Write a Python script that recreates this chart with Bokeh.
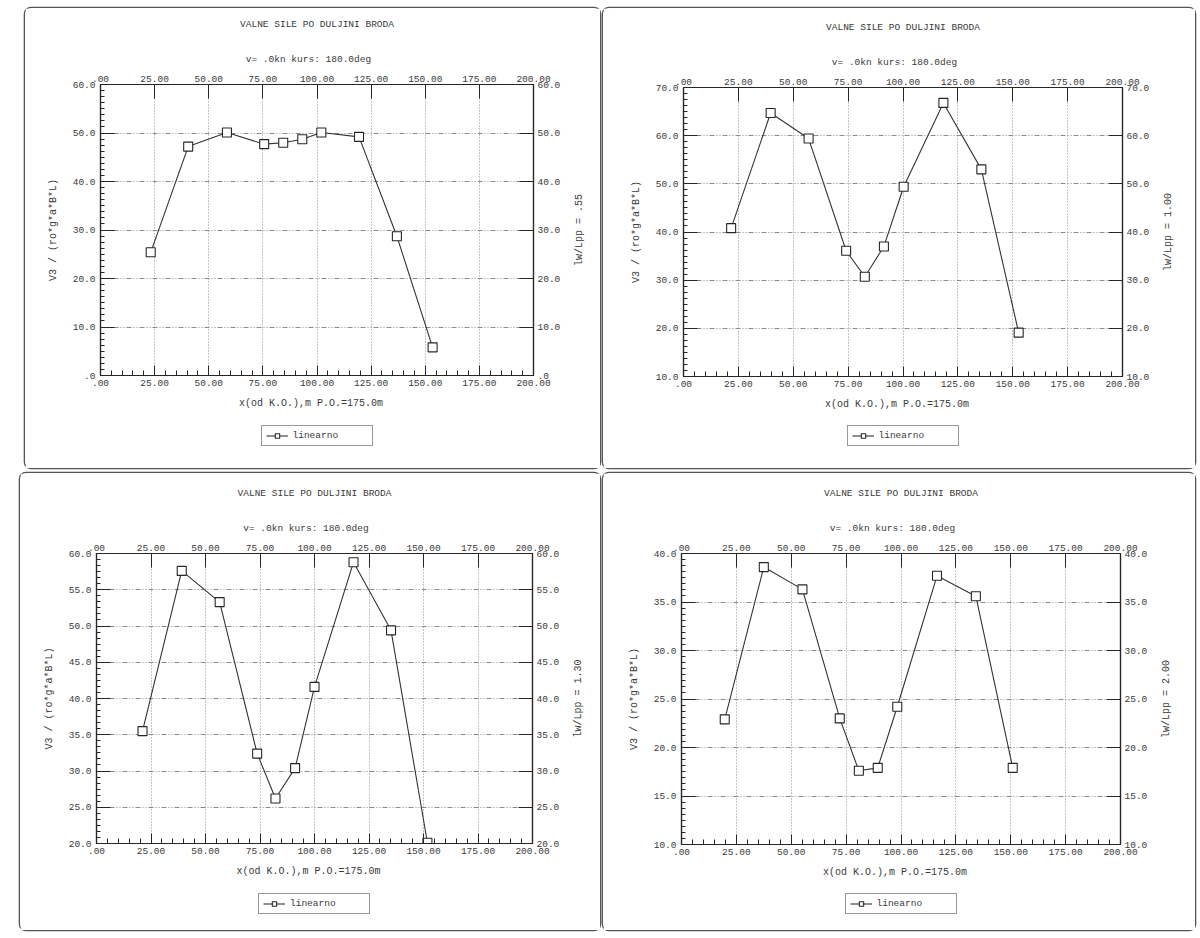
import math
from bokeh.plotting import figure
from bokeh.models import (Range1d, LinearAxis, FixedTicker, Legend, LegendItem, Spacer, Grid)
from bokeh.layouts import row, column
from bokeh.embed import file_html
from bokeh.resources import INLINE

# ---------------- data ----------------
TITLE = "VALNE SILE PO DULJINI BRODA"
SUBTITLE = "v=   .0kn  kurs: 180.0deg"
X_LABEL = "x(od K.O.),m   P.O.=175.0m"
Y_LABEL = "V3 / (ro*g*a*B*L)"
LEGEND_LABEL = "linearno"

x_ticks = [0, 25, 50, 75, 100, 125, 150, 175, 200]
x_tick_labels = [".00", "25.00", "50.00", "75.00", "100.00", "125.00", "150.00", "175.00", "200.00"]

# panel 1: lw/Lpp = .55
right_label_1 = "lw/Lpp = .55"
x_1 = [23.2, 40.5, 58.4, 75.6, 84.4, 93.2, 102.0, 119.4, 136.9, 153.4]
v_1 = [25.4, 47.2, 50.1, 47.7, 48.0, 48.7, 50.1, 49.2, 28.7, 5.8]
y_ticks_1 = [0, 10, 20, 30, 40, 50, 60]
y_labels_1 = [".0", "10.0", "20.0", "30.0", "40.0", "50.0", "60.0"]

# panel 2: lw/Lpp = 1.00
right_label_2 = "lw/Lpp = 1.00"
x_2 = [21.7, 39.7, 57.0, 74.1, 82.6, 91.3, 100.3, 118.4, 135.7, 152.7]
v_2 = [40.8, 64.7, 59.4, 36.1, 30.7, 37.0, 49.4, 66.8, 53.0, 19.1]
y_ticks_2 = [10, 20, 30, 40, 50, 60, 70]
y_labels_2 = ["10.0", "20.0", "30.0", "40.0", "50.0", "60.0", "70.0"]

# panel 3: lw/Lpp = 1.30
right_label_3 = "lw/Lpp = 1.30"
x_3 = [21.1, 39.1, 56.5, 73.7, 82.1, 91.1, 100.0, 117.9, 135.1, 151.8]
v_3 = [35.5, 57.6, 53.3, 32.4, 26.2, 30.4, 41.6, 58.8, 49.4, 20.1]
y_ticks_3 = [20, 25, 30, 35, 40, 45, 50, 55, 60]
y_labels_3 = ["20.0", "25.0", "30.0", "35.0", "40.0", "45.0", "50.0", "55.0", "60.0"]

# panel 4: lw/Lpp = 2.00
right_label_4 = "lw/Lpp = 2.00"
x_4 = [19.7, 37.5, 55.1, 72.1, 80.8, 89.4, 98.3, 116.4, 134.1, 150.9]
v_4 = [22.9, 38.6, 36.3, 23.0, 17.6, 17.9, 24.2, 37.7, 35.6, 17.9]
y_ticks_4 = [10, 15, 20, 25, 30, 35, 40]
y_labels_4 = ["10.0", "15.0", "20.0", "25.0", "30.0", "35.0", "40.0"]

# ---------------- style ----------------
FONT = "Liberation Mono"
TXT = "#3a3a3a"
INK = "#262626"
GRID = "#8a8a8a"
FS = "9.5px"
LFS = "10px"
CHAR_W = 6.0  # advance of one Liberation Mono character at 10px


def minor_list(ticks, n):
    out = []
    for a, b in zip(ticks[:-1], ticks[1:]):
        step = (b - a) / n
        out += [a + k * step for k in range(1, n)]
    return out


def style_axis(ax, tick_in=0, minor_in=0, standoff=4):
    ax.axis_line_color = INK
    ax.axis_line_width = 1.2
    ax.major_tick_line_color = INK
    ax.minor_tick_line_color = INK
    ax.major_tick_in = tick_in
    ax.major_tick_out = 0
    ax.minor_tick_in = minor_in
    ax.minor_tick_out = 0
    ax.major_label_standoff = standoff
    ax.major_label_text_font = FONT
    ax.major_label_text_font_size = FS
    ax.major_label_text_color = TXT
    ax.axis_label_text_font = FONT
    ax.axis_label_text_font_size = LFS
    ax.axis_label_text_font_style = "normal"
    ax.axis_label_text_color = TXT


def make_panel(xs, ys, y_ticks, y_labels, right_label, n_minor_y, geom):
    w, h_main, h_leg, left, right, top, bottom, leg_margin = geom
    fh = h_main - top - bottom
    lo, hi = y_ticks[0], y_ticks[-1]
    p = figure(width=w, height=h_main,
               min_border_left=left, min_border_right=right,
               min_border_top=top, min_border_bottom=bottom,
               x_range=Range1d(0, 200), y_range=Range1d(lo, hi),
               x_axis_location=None, y_axis_location=None, title_location=None,
               output_backend="svg", toolbar_location=None,
               background_fill_color="white", border_fill_color="white")
    p.xgrid.visible = False
    p.ygrid.visible = False
    p.outline_line_color = INK
    p.outline_line_width = 1.2

    x_over = dict(zip(x_ticks, x_tick_labels))
    y_over = dict(zip(y_ticks, y_labels))

    # bottom axis
    xb = LinearAxis(ticker=FixedTicker(ticks=x_ticks, minor_ticks=minor_list(x_ticks, 5)),
                    major_label_overrides=x_over, axis_label=X_LABEL)
    style_axis(xb, tick_in=10, minor_in=5, standoff=4)
    xb.axis_label_standoff = 9
    p.add_layout(xb, "below")

    # top axis: tick labels + subtitle as its label
    xt = LinearAxis(ticker=FixedTicker(ticks=x_ticks, minor_ticks=[]),
                    major_label_overrides=x_over, axis_label=SUBTITLE)
    style_axis(xt, tick_in=14, standoff=3)
    xt.axis_label_text_font_size = FS
    xt.axis_label_standoff = 8
    p.add_layout(xt, "above")

    # outermost top "axis" that only carries the page title
    xt2 = LinearAxis(ticker=FixedTicker(ticks=[], minor_ticks=[]), axis_label=TITLE)
    style_axis(xt2)
    xt2.axis_line_color = None
    xt2.axis_label_text_font_size = FS
    xt2.axis_label_standoff = 21
    p.add_layout(xt2, "above")

    # left axis
    yl = LinearAxis(ticker=FixedTicker(ticks=y_ticks, minor_ticks=minor_list(y_ticks, n_minor_y)),
                    major_label_overrides=y_over, axis_label=Y_LABEL)
    style_axis(yl, tick_in=14, minor_in=4, standoff=5)
    yl.axis_label_standoff = 11
    p.add_layout(yl, "left")

    # right axis
    yr = LinearAxis(ticker=FixedTicker(ticks=y_ticks, minor_ticks=[]),
                    major_label_overrides=y_over)
    style_axis(yr, tick_in=14, standoff=4)
    p.add_layout(yr, "right")

    # right-hand caption, written bottom-to-top as a rotated single tick label
    half = len(right_label) * CHAR_W / 2 * (hi - lo) / fh
    anchor = (lo + hi) / 2 - half
    yr2 = LinearAxis(ticker=FixedTicker(ticks=[anchor], minor_ticks=[]),
                     major_label_overrides={anchor: right_label},
                     major_label_orientation=math.pi / 2)
    style_axis(yr2, standoff=16)
    yr2.axis_line_color = None
    yr2.major_tick_line_color = None
    yr2.major_label_text_font_size = LFS
    p.add_layout(yr2, "right")

    # grids
    p.add_layout(Grid(dimension=0, ticker=FixedTicker(ticks=x_ticks[1:-1]),
                      grid_line_color=GRID, grid_line_dash="1 2", grid_line_width=1))
    p.add_layout(Grid(dimension=1, ticker=FixedTicker(ticks=y_ticks[1:-1]),
                      grid_line_color=GRID, grid_line_dash="5 2 1 2 1 2", grid_line_width=1))

    # data
    p.line(xs, ys, line_color="#333333", line_width=1.1)
    p.scatter(xs, ys, marker="square", size=9, line_color=INK, line_width=1.1,
              fill_color="white")

    # legend strip below the chart
    lf = figure(width=w, height=h_leg, min_border=0,
                x_range=Range1d(0, 200), y_range=Range1d(lo, hi),
                x_axis_location=None, y_axis_location=None, title_location=None,
                output_backend="svg", toolbar_location=None,
                background_fill_color="white", border_fill_color="white")
    lf.xgrid.visible = False
    lf.ygrid.visible = False
    lf.outline_line_color = None
    ln = lf.line(xs, ys, line_color="#333333", line_width=1.1, visible=False)
    sc = lf.scatter(xs, ys, marker="square", size=9, line_color=INK, line_width=1.1,
                    fill_color="white", visible=False)
    leg = Legend(items=[LegendItem(label=LEGEND_LABEL, renderers=[ln, sc])],
                 location="top_center", orientation="horizontal",
                 border_line_color="#333333", border_line_width=1,
                 padding=4, margin=leg_margin, spacing=0,
                 glyph_width=22, glyph_height=11, label_standoff=5, label_width=75,
                 label_text_font=FONT, label_text_font_size=FS, label_text_color=TXT,
                 background_fill_color="white", background_fill_alpha=1,
                 inactive_fill_alpha=0)
    lf.add_layout(leg)

    panel = column(p, lf)
    panel.styles = {"box-shadow": "0 0 0 1.3px #555555", "border-radius": "6px"}
    return panel


# geom: width, main height, legend strip height, left, right, top, bottom, legend margin
p1 = make_panel(x_1, v_1, y_ticks_1, y_labels_1, right_label_1, 8, (575, 412, 48, 75, 67, 76, 45, 5))
p2 = make_panel(x_2, v_2, y_ticks_2, y_labels_2, right_label_2, 8, (592, 412, 48, 80, 73, 79, 44, 5))
p3 = make_panel(x_3, v_3, y_ticks_3, y_labels_3, right_label_3, 6, (580, 413, 44, 76, 68, 80, 43, 7))
p4 = make_panel(x_4, v_4, y_ticks_4, y_labels_4, right_label_4, 8, (592, 413, 44, 78, 75, 80, 42, 7))

layout = column(
    Spacer(width=10, height=8),
    row(Spacer(width=25, height=460), p1, Spacer(width=3, height=460), p2),
    Spacer(width=10, height=5),
    row(Spacer(width=20, height=457), p3, Spacer(width=3, height=457), p4),
)

open("out.html", "w").write(file_html(layout, INLINE))
